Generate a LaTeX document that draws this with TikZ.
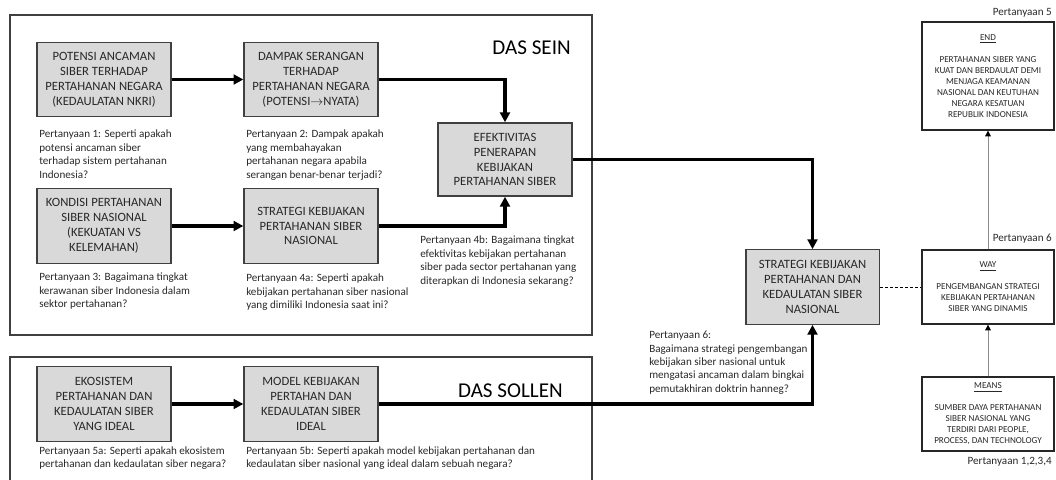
\documentclass[tikz,border=0pt]{standalone}
\usepackage{fontspec}
\setmainfont{Carlito}
\usepackage{xcolor}
\usetikzlibrary{arrows.meta, positioning}
\definecolor{dsgray}{RGB}{217,217,217}
\definecolor{dsborder}{RGB}{64,64,64}
\definecolor{dstext}{RGB}{40,40,40}
\definecolor{dsline}{RGB}{140,140,140}

\tikzset{
  greybox/.style={draw=dsborder, line width=0.9pt, fill=dsgray, minimum width=3.35cm,
    minimum height=1.86cm, align=center, text=dstext, inner sep=1pt,
    font=\fontsize{9}{10.6}\selectfont},
  whitebox/.style={draw=black!85, line width=0.9pt, fill=white, minimum width=3.3cm,
    align=center, text=dstext, inner sep=1pt, font=\fontsize{6.5}{7.8}\selectfont},
  question/.style={anchor=north west, align=left, text=dstext, inner sep=0pt,
    font=\fontsize{7.9}{9.5}\selectfont},
  tag/.style={anchor=east, text=dstext, inner sep=0pt, font=\fontsize{7.9}{9.5}\selectfont},
  frametitle/.style={anchor=east, text=black, inner sep=0pt, font=\fontsize{15}{18}\selectfont},
  frameline/.style={draw=dsborder, line width=0.85pt},
  flow/.style={line width=2.2pt, -{Triangle[length=7pt,width=7pt]}},
  thinflow/.style={draw=dsline, line width=0.6pt, -{Triangle[length=4pt,width=4pt,color=black]}}
}

\begin{document}
\begin{tikzpicture}[x=0.025cm, y=-0.025cm]
\useasboundingbox (0,0) rectangle (1056,479);

% frames
\draw[frameline] (10,15) rectangle (592,335);
\draw[frameline] (10,482) -- (10,357) -- (592,357) -- (592,482);
\node[frametitle] (sein)   at (571,48)  {DAS SEIN};
\node[frametitle] (sollen) at (563,391) {DAS SOLLEN};

% das sein boxes
\node[greybox] (potensi) at (104,79.5)
  {POTENSI ANCAMAN\\SIBER TERHADAP\\PERTAHANAN NEGARA\\(KEDAULATAN NKRI)};
\node[greybox] (dampak) at (311,79.5)
  {DAMPAK SERANGAN\\TERHADAP\\PERTAHANAN NEGARA\\(POTENSI$\rightarrow$NYATA)};
\node[greybox, minimum height=1.83cm] (efektivitas) at (505,159.5)
  {EFEKTIVITAS\\PENERAPAN\\KEBIJAKAN\\PERTAHANAN SIBER};
\node[greybox] (kondisi) at (104,226)
  {KONDISI PERTAHANAN\\SIBER NASIONAL\\(KEKUATAN VS\\KELEMAHAN)};
\node[greybox] (strategi) at (311,226)
  {STRATEGI KEBIJAKAN\\PERTAHANAN SIBER\\NASIONAL};

% das sollen boxes
\node[greybox] (ekosistem) at (104,404)
  {EKOSISTEM\\PERTAHANAN DAN\\KEDAULATAN SIBER\\YANG IDEAL};
\node[greybox] (model) at (311,404)
  {MODEL KEBIJAKAN\\PERTAHAN DAN\\KEDAULATAN SIBER\\IDEAL};

% centre box
\node[greybox, minimum width=3.33cm] (skn) at (812.5,287)
  {STRATEGI KEBIJAKAN\\PERTAHANAN DAN\\KEDAULATAN SIBER\\NASIONAL};

% end / way / means
\node[whitebox, minimum height=2.7cm] (end) at (988,76)
  {\underline{END}\\[7.8pt]PERTAHANAN SIBER YANG\\KUAT DAN BERDAULAT DEMI\\MENJAGA KEAMANAN\\NASIONAL DAN KEUTUHAN\\NEGARA KESATUAN\\REPUBLIK INDONESIA};
\node[whitebox, minimum height=1.85cm] (way) at (988,287)
  {\underline{WAY}\\[7.8pt]PENGEMBANGAN STRATEGI\\KEBIJAKAN PERTAHANAN\\SIBER YANG DINAMIS};
\node[whitebox, minimum height=1.85cm] (means) at (988,414)
  {\underline{MEANS}\\[7.8pt]SUMBER DAYA PERTAHANAN\\SIBER NASIONAL YANG\\TERDIRI DARI PEOPLE,\\PROCESS, DAN TECHNOLOGY};
\node[tag] (t5)   at (1052,13)  {Pertanyaan 5};
\node[tag] (t6)   at (1052,239) {Pertanyaan 6};
\node[tag] (t1234) at (1052,462) {Pertanyaan 1,2,3,4};

% questions
\node[question] (q1) at (39,130)
  {Pertanyaan 1: Seperti apakah\\potensi ancaman siber\\terhadap sistem pertahanan\\Indonesia?};
\node[question] (q2) at (246,130)
  {Pertanyaan 2: Dampak apakah\\yang membahayakan\\pertahanan negara apabila\\serangan benar-benar terjadi?};
\node[question] (q3) at (39,273)
  {Pertanyaan 3: Bagaimana tingkat\\kerawanan siber Indonesia dalam\\sektor pertahanan?};
\node[question] (q4a) at (246,274)
  {Pertanyaan 4a: Seperti apakah\\kebijakan pertahanan siber nasional\\yang dimiliki Indonesia saat ini?};
\node[question] (q4b) at (420,236)
  {Pertanyaan 4b: Bagaimana tingkat\\efektivitas kebijakan pertahanan\\siber pada sector pertahanan yang\\diterapkan di Indonesia sekarang?};
\node[question] (q5a) at (39,446)
  {Pertanyaan 5a: Seperti apakah ekosistem\\pertahanan dan kedaulatan siber negara?};
\node[question] (q5b) at (246,446)
  {Pertanyaan 5b: Seperti apakah model kebijakan pertahanan dan\\kedaulatan siber nasional yang ideal dalam sebuah negara?};
\node[question] (q6) at (649,331)
  {Pertanyaan 6:\\Bagaimana strategi pengembangan\\kebijakan siber nasional untuk\\mengatasi ancaman dalam bingkai\\pemutakhiran doktrin hanneg?};

% connectors
\draw[flow] (potensi) -- (dampak);
\draw[flow] (kondisi) -- (strategi);
\draw[flow] (ekosistem) -- (model);
\draw[flow] (dampak.east) -| (efektivitas.north);
\draw[flow] (strategi.east) -| (efektivitas.south);
\draw[flow] (efektivitas.east) -| (skn.north);
\draw[flow] (model.east) -| (skn.south);
\draw[line width=0.7pt, dash pattern=on 2.2pt off 1.4pt] (skn.east) -- (way.west);
\draw[thinflow] (means.north) -- (way.south);
\draw[thinflow] (way.north) -- (end.south);
\end{tikzpicture}
\end{document}
